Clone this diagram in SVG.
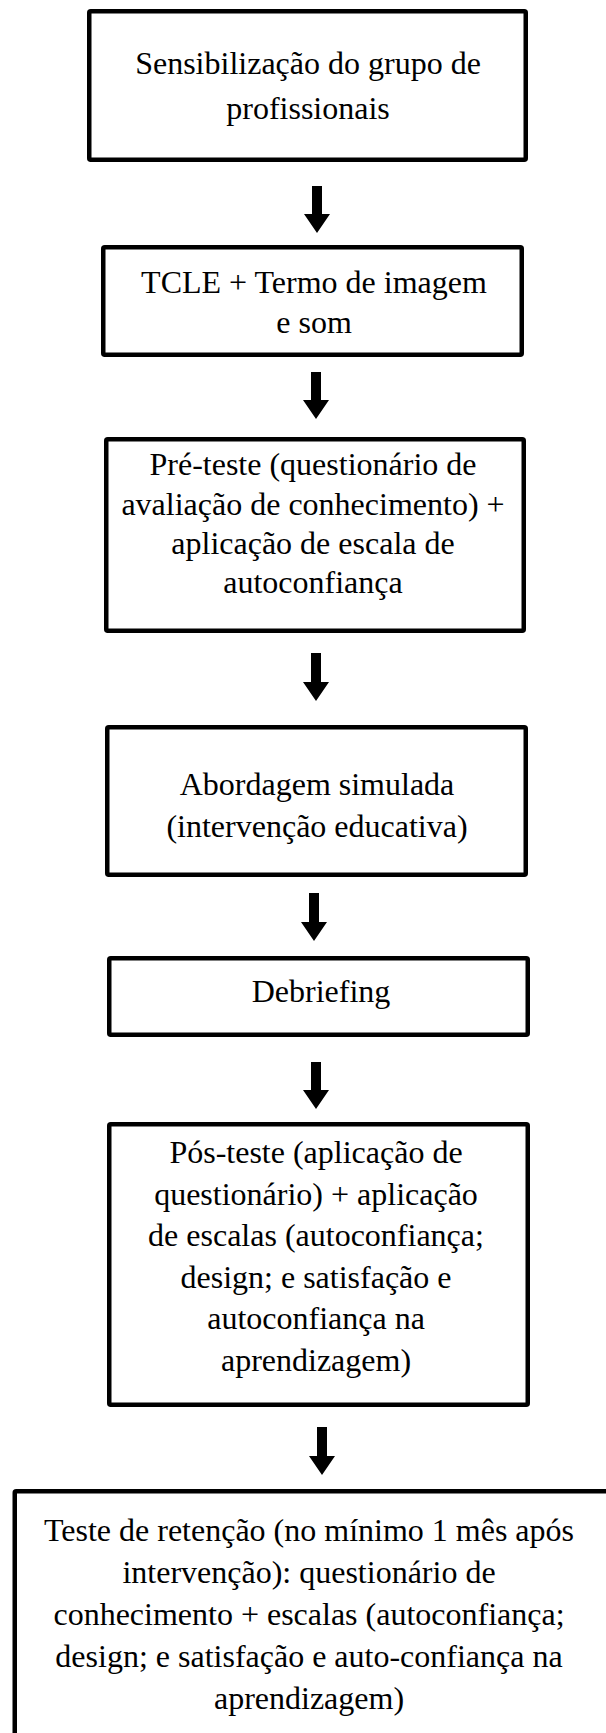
<svg xmlns="http://www.w3.org/2000/svg" width="606" height="1733" viewBox="0 0 606 1733">
<style>
.box{fill:#fff;stroke:#000;stroke-width:4.5;stroke-linejoin:round}
.t{font-family:"Liberation Serif","Times New Roman",serif;font-size:32px;fill:#000;text-anchor:middle}
.arr{fill:#000}
</style>
<rect width="606" height="1733" fill="#fff"/>
<g id="n1">
<rect class="box" x="89.25" y="11.25" width="436.5" height="148.5" rx="1.5"/>
<text class="t" x="308" y="74">Sensibilização do grupo de</text>
<text class="t" x="308" y="119">profissionais</text>
</g>
<g id="n2">
<rect class="box" x="103.25" y="247.25" width="418.5" height="107.5" rx="1.5"/>
<text class="t" x="314" y="293">TCLE + Termo de imagem</text>
<text class="t" x="314" y="333">e som</text>
</g>
<g id="n3">
<rect class="box" x="106.25" y="439.25" width="417.5" height="191.5" rx="1.5"/>
<text class="t" x="313" y="475">Pré-teste (questionário de</text>
<text class="t" x="313" y="515">avaliação de conhecimento) +</text>
<text class="t" x="313" y="554">aplicação de escala de</text>
<text class="t" x="313" y="593">autoconfiança</text>
</g>
<g id="n4">
<rect class="box" x="107.25" y="727.25" width="418.5" height="147.5" rx="1.5"/>
<text class="t" x="317" y="795">Abordagem simulada</text>
<text class="t" x="317" y="837">(intervenção educativa)</text>
</g>
<g id="n5">
<rect class="box" x="109.25" y="958.25" width="418.5" height="76.5" rx="1.5"/>
<text class="t" x="321" y="1002">Debriefing</text>
</g>
<g id="n6">
<rect class="box" x="109.25" y="1124.25" width="418.5" height="280.5" rx="1.5"/>
<text class="t" x="316" y="1163">Pós-teste (aplicação de</text>
<text class="t" x="316" y="1205">questionário) + aplicação</text>
<text class="t" x="316" y="1246">de escalas (autoconfiança;</text>
<text class="t" x="316" y="1288">design; e satisfação e</text>
<text class="t" x="316" y="1329">autoconfiança na</text>
<text class="t" x="316" y="1371">aprendizagem)</text>
</g>
<g id="n7">
<rect class="box" x="14.75" y="1491.25" width="610" height="260" rx="1.5"/>
<text class="t" x="309" y="1541">Teste de retenção (no mínimo 1 mês após</text>
<text class="t" x="309" y="1583">intervenção): questionário de</text>
<text class="t" x="309" y="1625">conhecimento + escalas (autoconfiança;</text>
<text class="t" x="309" y="1667">design; e satisfação e auto-confiança na</text>
<text class="t" x="309" y="1709">aprendizagem)</text>
</g>
<g id="connectors">
<polygon class="arr" points="312,186 322,186 322,214 330,214 317,233 304,214 312,214"/>
<polygon class="arr" points="311,372 321,372 321,400 329,400 316,419 303,400 311,400"/>
<polygon class="arr" points="311,653 321,653 321,682 329,682 316,701 303,682 311,682"/>
<polygon class="arr" points="309,893 319,893 319,922 327,922 314,941 301,922 309,922"/>
<polygon class="arr" points="311,1062 321,1062 321,1090 329,1090 316,1109 303,1090 311,1090"/>
<polygon class="arr" points="317,1427 327,1427 327,1456 335,1456 322,1475 309,1456 317,1456"/>
</g>
</svg>
